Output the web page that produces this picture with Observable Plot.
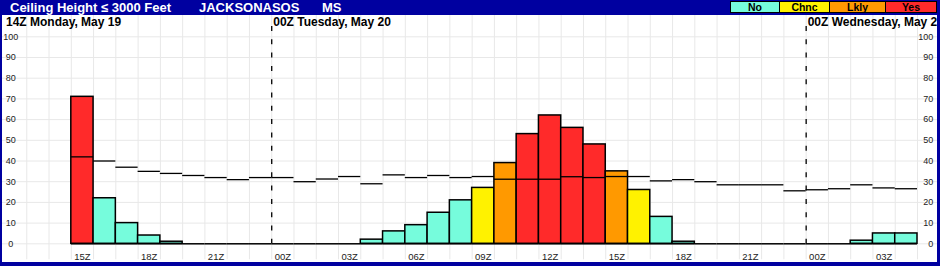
<!DOCTYPE html>
<html>
<head>
<meta charset="utf-8">
<script src="https://cdn.jsdelivr.net/npm/d3@7"></script>
<script src="https://cdn.jsdelivr.net/npm/@observablehq/plot@0.6"></script>
<style>
  html, body { margin: 0; padding: 0; background: #fff; }
  #wrap { position: relative; width: 940px; height: 266px; background: #0000a0; overflow: hidden;
          font-family: "Liberation Sans", Arial, sans-serif; }
  #title span { position: absolute; top: 0; line-height: 15px; font-size: 13px; font-weight: bold; color: #fff; white-space: pre; }
  #legend { position: absolute; top: 1px; left: 731px; height: 12px; display: flex; }
  #legend div { box-sizing: border-box; height: 12px; border: 1px solid #000; margin-left: -1px;
                font-size: 10.5px; font-weight: bold; line-height: 10px; text-align: center; color: #000; }
  #chart { position: absolute; left: 2px; top: 15px; }
</style>
</head>
<body>
<div id="wrap">
  <div id="title"></div>
  <div id="legend"></div>
  <div id="chart"></div>
</div>
<script>
// ---- data ----
const titleParts = ["Ceiling Height \u2264 3000 Feet", "JACKSONASOS", "MS"];
const categories = ["No", "Chnc", "Lkly", "Yes"];
const categoryColors = ["#76fcdc", "#fff200", "#ff9900", "#ff2a2a"];
// hours counted from 14Z Monday May 19 (hour 0); data begin at 15Z (hour 1)
const firstHour = 1;
const probability = [71, 22, 10, 4, 1, 0, 0, 0, 0, 0, 0, 0, 0, 2, 6, 9, 15, 21, 27, 39, 53, 62, 56, 48, 35, 26, 13, 1, 0, 0, 0, 0, 0, 0, 0, 1.5, 5, 5];
const climatology = [42, 40, 37, 35, 34, 33, 32, 31, 32, 32, 30, 31.3, 32.5, 29, 33.3, 32, 33, 32, 32.5, 31.2, 31.2, 31.2, 32.4, 32, 32.5, 32.5, 30.4, 31, 30, 28.5, 28.5, 28.5, 25.6, 26.1, 26.6, 28.5, 27, 26.6];
const category = ["Yes", "No", "No", "No", "No", "No", "No", "No", "No", "No", "No", "No", "No", "No", "No", "No", "No", "No", "Chnc", "Lkly", "Yes", "Yes", "Yes", "Yes", "Lkly", "Chnc", "No", "No", "No", "No", "No", "No", "No", "No", "No", "No", "No", "No"];
const tickLabels = ["15Z", "18Z", "21Z", "00Z", "03Z", "06Z", "09Z", "12Z", "15Z", "18Z", "21Z", "00Z", "03Z"];
const tickHours = [1, 4, 7, 10, 13, 16, 19, 22, 25, 28, 31, 34, 37];
const dayLabels = ["14Z Monday, May 19", "00Z Tuesday, May 20", "00Z Wednesday, May 21"];
const dayBreaks = [10, 34];
const yTicks = [0, 10, 20, 30, 40, 50, 60, 70, 80, 90, 100];
const xDomain = [-2, 39];

// ---- header ----
const titleLeft = [10, 199, 322];
const title = document.getElementById("title");
titleParts.forEach((t, i) => {
  const s = document.createElement("span");
  s.textContent = t; s.style.left = titleLeft[i] + "px";
  title.appendChild(s);
});
const legendWidths = [50, 51, 57, 52];
const legend = document.getElementById("legend");
categories.forEach((c, i) => {
  const d = document.createElement("div");
  d.textContent = c; d.style.background = categoryColors[i]; d.style.width = legendWidths[i] + "px";
  legend.appendChild(d);
});

// ---- chart ----
const rows = probability.map((p, i) => ({
  h: firstHour + i, p, clim: climatology[i], cat: category[i]
}));
const dayX = [xDomain[0], ...dayBreaks];
const gridHours = d3.range(xDomain[0] + 1, xDomain[1] + 1);

const chart = Plot.plot({
  width: 935,
  height: 247,
  marginLeft: 2,
  marginRight: 20,
  marginTop: 21.3,
  marginBottom: 18.7,
  style: { background: "white", overflow: "hidden", fontFamily: "Liberation Sans, Arial, sans-serif" },
  x: { domain: xDomain, axis: null },
  y: { domain: [0, 100], axis: null },
  color: { domain: categories, range: categoryColors },
  marks: [
    Plot.ruleY(yTicks, { stroke: "#e8e8e8", strokeWidth: 1, insetLeft: -2, insetRight: -20 }),
    Plot.ruleX(gridHours, { stroke: "#e8e8e8", strokeWidth: 1, insetTop: -21.3, insetBottom: -16 }),
    Plot.ruleX(dayBreaks, { stroke: "#000", strokeWidth: 1.3, strokeDasharray: "5,8.3", insetTop: -10.3 }),
    Plot.rectY(rows, { x1: "h", x2: d => d.h + 1, y: "p", fill: "cat", stroke: "#000", strokeWidth: 1.5 }),
    Plot.ruleY(rows, { x1: "h", x2: d => d.h + 1, y: () => 0, stroke: "#000", strokeWidth: 1.5 }),
    Plot.ruleY(rows, { x1: "h", x2: d => d.h + 1, y: "clim", stroke: "#000", strokeWidth: 1.3 }),
    Plot.text(dayLabels, { x: (d, i) => dayX[i], text: d => d, frameAnchor: "top", dy: -15, dx: 1.5,
      textAnchor: "start", lineAnchor: "middle", fontSize: 12, fontWeight: "bold", fill: "#000" }),
    Plot.text(yTicks, { y: d => d, text: d => String(d), frameAnchor: "left", dx: 6.3,
      textAnchor: "middle", lineAnchor: "middle", fontSize: 9, fill: "#222" }),
    Plot.text(yTicks, { y: d => d, text: d => String(d), frameAnchor: "right", dx: 15.7,
      textAnchor: "end", lineAnchor: "middle", fontSize: 9, fill: "#222" }),
    Plot.text(tickLabels, { x: (d, i) => tickHours[i] + 0.5, text: d => d, frameAnchor: "bottom", dy: 13,
      textAnchor: "middle", lineAnchor: "middle", fontSize: 9.5, fill: "#222" })
  ]
});
document.getElementById("chart").appendChild(chart);
</script>
</body>
</html>
